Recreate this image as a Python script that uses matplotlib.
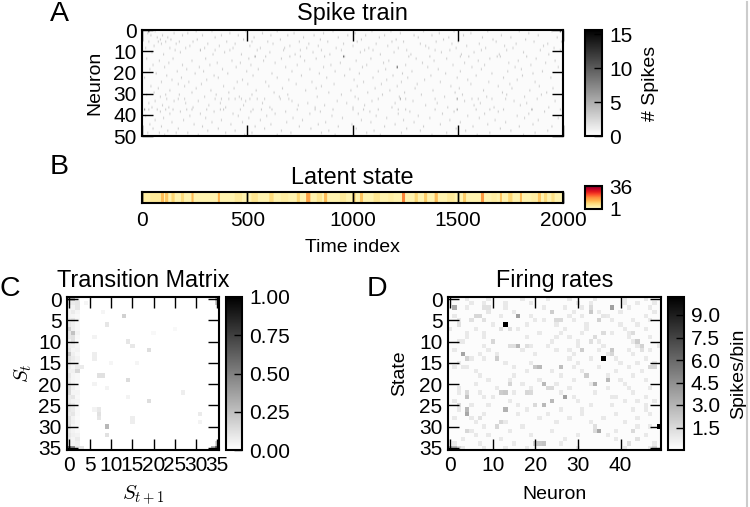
import numpy as np
import matplotlib
matplotlib.use('Agg')
import matplotlib.pyplot as plt
from matplotlib.lines import Line2D

plt.rcParams['font.family'] = ['Liberation Sans', 'DejaVu Sans']
plt.rcParams['mathtext.fontset'] = 'cm'

spike_times = {
    0: [60, 255, 330, 490, 640, 905, 1090, 1180, 1335, 1480, 1640, 1790, 1945],
    1: [25, 150, 215, 415, 570, 720, 860, 1010, 1225, 1410, 1560, 1835],
    2: [40, 95, 190, 285, 375, 455, 610, 690, 815, 975, 1060, 1150, 1290, 1375, 1525, 1705, 1880],
    3: [70, 120, 345, 530, 765, 930, 1125, 1310, 1455, 1615, 1750, 1970],
    4: [85, 135, 260, 480, 655, 845, 1040, 1205, 1430, 1665, 1820],
    5: [30, 75, 110, 175, 240, 400, 520, 595, 745, 880, 1020, 1185, 1240, 1395, 1500, 1680, 1860, 1990],
    6: [90, 160, 310, 440, 620, 790, 955, 1110, 1320, 1470, 1600, 1775, 1925],
    7: [55, 225, 365, 510, 700, 835, 1000, 1165, 1345, 1540, 1720, 1905],
    8: [15, 130, 205, 295, 430, 560, 675, 780, 920, 1075, 1215, 1360, 1490, 1630, 1760, 1955],
    9: [157, 276, 347, 418, 545, 671, 750, 854, 949, 1059, 1099, 1257, 1392, 1463, 1614, 1732, 1891, 1986],
    10: [45, 180, 390, 605, 810, 1035, 1195, 1420, 1575, 1810],
    11: [100, 335, 470, 725, 890, 1130, 1275, 1515, 1695, 1930],
    12: [537, 589, 703, 750, 869, 964, 1265, 1368, 1511, 1550, 1685, 1701, 1827],
    13: [20, 145, 300, 505, 660, 825, 1085, 1300, 1445, 1650, 1870],
    14: [80, 235, 425, 575, 770, 1015, 1170, 1385, 1595, 1785, 1960],
    15: [125, 355, 465, 630, 940, 1145, 1330, 1530, 1740, 1915],
    16: [50, 190, 320, 515, 735, 895, 1065, 1250, 1475, 1625, 1845],
    17: [105, 270, 445, 680, 860, 1045, 1355, 1565, 1770, 1975],
    18: [35, 210, 380, 550, 795, 985, 1155, 1405, 1610, 1800],
    19: [165, 290, 495, 710, 915, 1120, 1280, 1510, 1735, 1900],
    20: [65, 250, 405, 615, 840, 1030, 1235, 1440, 1660, 1855],
    21: [115, 340, 525, 755, 960, 1190, 1370, 1585, 1805],
    22: [10, 185, 360, 640, 875, 1095, 1260, 1495, 1715, 1940],
    23: [140, 305, 475, 695, 1005, 1160, 1340, 1545, 1780, 1995],
    24: [90, 220, 450, 585, 805, 1050, 1230, 1415, 1645, 1865],
    25: [170, 280, 500, 730, 910, 1135, 1305, 1560, 1745],
    26: [40, 200, 385, 600, 850, 1020, 1210, 1465, 1690, 1885],
    27: [75, 255, 435, 665, 825, 1105, 1295, 1505, 1755, 1950],
    28: [130, 325, 540, 775, 990, 1175, 1380, 1620, 1840],
    29: [55, 235, 410, 625, 885, 1070, 1245, 1485, 1710, 1920],
    30: [20, 110, 175, 350, 520, 690, 945, 1140, 1325, 1520, 1730, 1895],
    31: [85, 295, 460, 650, 830, 1010, 1220, 1435, 1635, 1815],
    32: [117, 173, 204, 347, 378, 410, 442, 473, 513, 545, 584, 656, 695, 1028, 1123, 1226, 1250, 1392, 1495, 1566, 1598, 1661, 1725, 1875],
    33: [60, 150, 265, 490, 710, 925, 1090, 1285, 1530, 1765, 1960],
    34: [30, 205, 370, 570, 785, 970, 1200, 1400, 1605, 1825],
    35: [95, 315, 480, 740, 865, 1055, 1345, 1575, 1795],
    36: [45, 125, 240, 395, 605, 820, 1000, 1185, 1450, 1670, 1930],
    37: [14, 30, 70, 114, 149, 212, 236, 307, 370, 385, 466, 529, 569, 616, 735, 822, 906, 1004, 1052, 1123, 1218, 1250, 1392, 1495, 1587, 1653, 1717, 1851, 1986],
    38: [85, 180, 340, 515, 680, 845, 1080, 1270, 1480, 1690, 1910],
    39: [130, 275, 430, 630, 795, 1025, 1215, 1425, 1625, 1835],
    40: [15, 225, 455, 590, 900, 1110, 1310, 1545, 1780],
    41: [100, 300, 505, 715, 950, 1160, 1365, 1600, 1815, 1975],
    42: [60, 195, 375, 560, 760, 1040, 1240, 1460, 1675, 1880],
    43: [140, 330, 475, 685, 870, 1085, 1290, 1510, 1725],
    44: [35, 245, 420, 610, 835, 995, 1200, 1415, 1640, 1855],
    45: [90, 285, 535, 745, 930, 1150, 1335, 1570, 1790, 1945],
    46: [50, 170, 360, 580, 800, 1015, 1255, 1490, 1700],
    47: [120, 310, 440, 660, 885, 1100, 1320, 1535, 1750, 1925],
    48: [25, 80, 160, 215, 395, 520, 705, 850, 1065, 1230, 1445, 1650, 1865],
    49: [105, 265, 485, 640, 915, 1130, 1375, 1590, 1810],
}
# darker events: neuron, time, count
spike_strong_neurons = [17, 12, 32, 32, 37, 37, 37, 12, 9, 0, 0]
spike_strong_times = [1210, 955, 1495, 1226, 1495, 1851, 14, 537, 276, 30, 1985]
spike_strong_counts = [12, 9, 7, 6, 6, 6, 7, 6, 5, 12, 12]

# Latent state bands: start, end, state
state_starts = [0, 40, 93, 114, 141, 188, 236, 300, 363, 440, 520, 608, 660, 735, 782, 830, 869, 940, 1004, 1036, 1100, 1170, 1237, 1297, 1344, 1392, 1450, 1527, 1560, 1614, 1660, 1701, 1740, 1796, 1850, 1883, 1914, 1946]
state_ends = [40, 93, 100, 122, 150, 196, 244, 330, 368, 470, 545, 620, 690, 748, 795, 850, 875, 965, 1010, 1048, 1125, 1190, 1245, 1306, 1352, 1402, 1480, 1535, 1590, 1620, 1680, 1708, 1755, 1802, 1870, 1892, 1922, 1955]
state_values = [5, 6, 13, 12, 10, 9, 13, 4, 14, 6, 7, 9, 5, 10, 16, 7, 13, 6, 10, 12, 7, 5, 19, 10, 11, 13, 6, 11, 4, 17, 5, 12, 10, 13, 5, 12, 9, 8]

# Transition matrix: left columns by state, then single cells
trans_col0 = [.3, .1, .05, .05, .05, .08, .1, .18, .1, .1, .06, .08, .1, .22, .12, .1, .08, .06, .1, .08, .1, .15, .15, .08, .08, .12, .1, .08, .12, .12, .14, .08, .1, .08, .1, .6]
trans_col1 = [.3, .08, .05, .08, .04, .1, .06, .06, .24, .12, .12, .06, .04, .06, .08, .06, .04, .06, .04, .04, .05, .06, .04, .1, .05, .08, .08, .1, .05, .06, .04, .05, .06, .04, .05, .45]
trans_col2 = [.06, .1, .1, .04, .03, .04, .03, .03, .05, .03, .02, .04, .05, .03, .05, .04, .08, .16, .03, .03, .02, .03, .04, .03, .04, .03, .03, .03, .02, .03, .03, .03, .05, .08, .06, .1]
trans_rows = [4, 6, 10, 11, 12, 16, 18, 18, 19, 24, 22, 30, 32, 27, 26, 27, 28, 28, 29, 13, 14, 20, 3, 1, 9, 26, 21, 35, 34, 0, 1, 35, 35, 7, 15, 23, 15, 29, 8]
trans_cols = [13, 9, 14, 15, 19, 3, 7, 8, 14, 19, 27, 9, 9, 31, 7, 7, 7, 15, 15, 6, 6, 6, 8, 4, 6, 6, 9, 3, 35, 35, 35, 35, 34, 25, 10, 14, 16, 31, 20]
trans_vals = [.18, .1, .1, .09, .13, .08, .12, .12, .14, .13, .07, .28, .12, .08, .09, .12, .1, .07, .07, .07, .07, .05, .04, .04, .05, .05, .05, .1, .15, .25, .2, .6, .3, .03, .04, .05, .04, .05, .03]

# Firing rates: stronger cells, then faint cells per state
rate_rows = [6, 14, 30, 2, 2, 4, 23, 13, 31, 26, 27, 26, 11, 16, 16, 16, 14, 14, 20, 19, 20, 21, 21, 24, 25, 22, 22, 23, 22, 18, 12, 10, 10, 11, 12, 5, 4, 3, 2, 5, 5, 3, 3, 5, 4, 4, 5, 2, 2, 10, 9, 12, 13, 35, 35, 34, 34, 34, 35, 35, 31, 34, 33, 16, 16, 29, 30, 28, 25, 25, 22, 22, 20, 8, 8, 10, 11, 11, 11, 7, 7, 6, 31, 31, 30]
rate_cols = [13, 36, 49, 1, 38, 16, 27, 3, 35, 13, 4, 4, 16, 21, 20, 26, 11, 4, 34, 37, 22, 23, 24, 24, 22, 12, 13, 4, 4, 32, 31, 10, 44, 45, 45, 35, 36, 33, 33, 25, 26, 24, 9, 8, 6, 7, 5, 8, 9, 10, 34, 38, 38, 0, 1, 21, 22, 20, 48, 2, 4, 42, 44, 47, 48, 12, 11, 7, 20, 2, 18, 19, 14, 43, 36, 33, 14, 15, 18, 12, 14, 2, 34, 43, 34]
rate_vals = [10.2, 10.2, 10.2, 3.4, 3.8, 3.8, 3.8, 3.6, 3.5, 3.1, 3.5, 2.8, 2.9, 2.8, 2.2, 2.6, 2, 1.8, 3, 2.8, 2.8, 1.5, 1.5, 2.8, 2.8, 2, 2.2, 2.4, 1.5, 2, 2, 1.8, 2, 1.8, 1.2, 1.8, 1, 2.2, 1.5, 1.5, 1.5, 2, 1, 1.2, 1.6, 1.6, 1.2, 1.2, 1.2, 1.6, 1.4, 2.2, 1.6, 3.2, 3, 2.2, 2.4, 1.8, 1.8, 1.6, 1.6, 1.3, 1.2, 1.6, 1.6, 1.6, 1.6, 1.2, 1.5, 1.5, 1.6, 1.5, 1.7, 1.4, 1.4, 1.3, 1.3, 1.3, 1.3, 1.2, 1.2, 1.2, 1.5, 1.5, 1.3]
rate_faint = {
    0: [4, 9, 17, 23, 28, 34, 41, 46],
    1: [5, 8, 13, 19, 30, 33, 41, 44, 48],
    2: [4, 13, 22, 27, 31, 42, 47],
    3: [9, 15, 24, 29, 35, 40, 48],
    4: [1, 12, 19, 28, 31, 37, 46],
    5: [2, 20, 22, 29, 38, 43, 47],
    6: [2, 10, 18, 25, 32, 40, 44],
    7: [0, 6, 12, 16, 27, 32, 41, 46],
    8: [4, 8, 21, 26, 31, 38, 42],
    9: [8, 4, 18, 25, 28, 34, 42, 47],
    10: [2, 3, 24, 30, 35, 43],
    11: [8, 19, 23, 30, 36, 44, 49],
    12: [1, 9, 17, 25, 28, 35, 42, 47],
    13: [7, 11, 20, 29, 37, 43],
    14: [5, 8, 28, 33, 39, 46],
    15: [2, 13, 19, 30, 40, 44, 48],
    16: [1, 3, 4, 15, 29, 35, 42],
    17: [6, 18, 24, 31, 39, 45],
    18: [7, 15, 26, 32, 37, 43],
    19: [9, 14, 21, 29, 40, 46],
    20: [6, 17, 25, 33, 41],
    21: [2, 11, 19, 28, 37, 42, 47],
    22: [7, 15, 2, 26, 34, 43],
    23: [8, 10, 38, 39, 29, 46],
    24: [1, 14, 30, 41, 44, 48],
    25: [5, 9, 16, 33, 38, 46],
    26: [2, 18, 26, 31, 43, 46],
    27: [8, 16, 23, 31, 39, 47],
    28: [1, 5, 21, 28, 36, 44],
    29: [6, 13, 25, 33, 41],
    30: [8, 17, 34, 44, 47],
    31: [5, 14, 24, 43, 39],
    32: [6, 9, 19, 30, 37, 46],
    33: [3, 12, 39, 44, 27],
    34: [1, 7, 15, 26, 42, 48],
    35: [3, 8, 13, 18, 30, 41, 47],
}

W, H = 750, 507
TICK_SIZE = 15


def px_axes(fig, left, top, right, bottom):
    return fig.add_axes([left / W, 1 - bottom / H, (right - left) / W, (bottom - top) / H])


def style_axes(ax, lw=1.5):
    for s in ax.spines.values():
        s.set_linewidth(lw)
    ax.tick_params(direction='in', top=True, right=True, length=8, width=1, labelsize=TICK_SIZE, pad=4)


def style_cbar(cax, ticks, labels):
    for s in cax.spines.values():
        s.set_linewidth(1.5)
    cax.set_xticks([])
    cax.yaxis.tick_right()
    cax.set_yticks(ticks)
    cax.set_yticklabels(labels)
    cax.tick_params(direction='in', length=6, width=1, labelsize=TICK_SIZE, pad=5)


def main():
    fig = plt.figure(figsize=(W / 100, H / 100), dpi=100)

    # A: spike train
    counts = np.full((50, 400), 0.25)
    for n, times in spike_times.items():
        for t in times:
            counts[n, t // 5] += 3
    for n, t, c in zip(spike_strong_neurons, spike_strong_times, spike_strong_counts):
        counts[n, t // 5] = c
    ax = px_axes(fig, 142, 30, 563, 136)
    im = ax.imshow(counts, cmap='gray_r', vmin=0, vmax=15.6, aspect='auto',
                   extent=[0, 2000, 50, 0], interpolation='bilinear')
    style_axes(ax)
    ax.set_xticks([0, 500, 1000, 1500, 2000])
    ax.set_xticklabels([])
    ax.set_yticks([0, 10, 20, 30, 40, 50])
    ax.set_ylabel('Neuron', fontsize=14, labelpad=7)
    ax.set_title('Spike train', fontsize=16.8, pad=7)
    cax = px_axes(fig, 585, 30, 602, 136)
    fig.colorbar(im, cax=cax)
    style_cbar(cax, [0, 5, 10, 15], ['0', '5', '10', '15'])
    cax.set_ylabel('# Spikes', fontsize=14, labelpad=7)

    # B: latent state
    states = np.full((1, 400), 4.0)
    for a, b, s in zip(state_starts, state_ends, state_values):
        states[0, a // 5:b // 5 + 1] = s
    ax = px_axes(fig, 142, 192, 563, 203)
    im = ax.imshow(states, cmap='YlOrRd', vmin=1, vmax=36, aspect='auto',
                   extent=[0, 2000, 1, 0], interpolation='hanning')
    style_axes(ax)
    ax.set_yticks([])
    ax.set_xticks([0, 500, 1000, 1500, 2000])
    ax.tick_params(length=8, pad=6)
    ax.set_xlabel('Time index', fontsize=14, labelpad=6)
    ax.set_title('Latent state', fontsize=16.8, pad=6)
    cax = px_axes(fig, 585, 186, 602, 209)
    fig.colorbar(im, cax=cax)
    style_cbar(cax, [1, 36], ['1', '36'])
    cax.tick_params(length=0)

    # C: transition matrix
    trans = np.zeros((36, 36))
    trans[:, 0] = trans_col0
    trans[:, 1] = trans_col1
    trans[:, 2] = trans_col2
    for r, c, v in zip(trans_rows, trans_cols, trans_vals):
        trans[r, c] = v
    ax = px_axes(fig, 67, 297, 219, 450)
    im = ax.imshow(trans, cmap='gray_r', vmin=0, vmax=1, aspect='auto', interpolation='nearest')
    style_axes(ax)
    ax.set_xticks(range(0, 36, 5))
    ax.set_yticks(range(0, 36, 5))
    ax.set_xlabel('$S_{t+1}$', fontsize=15, labelpad=6)
    ax.set_ylabel('$S_t$', fontsize=15, labelpad=3)
    ax.set_title('Transition Matrix', fontsize=16.8, pad=7)
    cax = px_axes(fig, 226, 297, 242, 450)
    fig.colorbar(im, cax=cax)
    style_cbar(cax, [0, .25, .5, .75, 1], ['0.00', '0.25', '0.50', '0.75', '1.00'])

    # D: firing rates
    rates = np.full((36, 50), 0.15)
    for r, cols in rate_faint.items():
        for c in cols:
            rates[r, c] = 0.9
    for r, c, v in zip(rate_rows, rate_cols, rate_vals):
        rates[r, c] = v
    ax = px_axes(fig, 448, 297, 661, 450)
    im = ax.imshow(rates, cmap='gray_r', vmin=0, vmax=10.2, aspect='auto', interpolation='nearest')
    style_axes(ax)
    ax.set_xticks(range(0, 41, 10))
    ax.set_yticks(range(0, 36, 5))
    ax.set_xlabel('Neuron', fontsize=14, labelpad=8)
    ax.set_ylabel('State', fontsize=14, labelpad=8)
    ax.set_title('Firing rates', fontsize=16.8, pad=7)
    cax = px_axes(fig, 668, 297, 684, 450)
    fig.colorbar(im, cax=cax)
    rate_ticks = [1.5, 3.0, 4.5, 6.0, 7.5, 9.0]
    style_cbar(cax, rate_ticks, [f'{v:.1f}' for v in rate_ticks])
    cax.set_ylabel('Spikes/bin', fontsize=14, labelpad=7)

    # panel letters
    for letter, x, y in [('A', 59, 14), ('B', 59, 167), ('C', 10, 289), ('D', 377, 289)]:
        fig.text(x / W, 1 - y / H, letter, fontsize=20.5, ha='center', va='center')

    # grey edge line on the right
    fig.add_artist(Line2D([747 / W, 747 / W], [0, 1 - 2 / H], color='#cccccc', lw=1.5))

    fig.savefig('out.png', dpi=100)


if __name__ == "__main__":
    main()
